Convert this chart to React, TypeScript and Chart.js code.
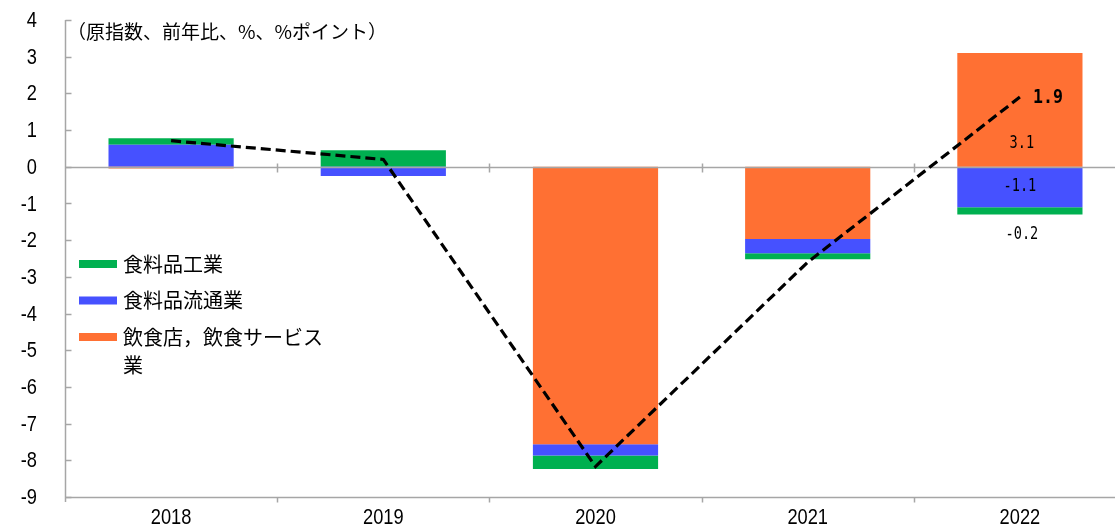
import React, { useEffect, useRef } from "react";
import { Chart, registerables } from "chart.js";
Chart.register(...registerables);

// ---- data ----
const categories = ["2018", "2019", "2020", "2021", "2022"];
const foodIndustry = [0.18, 0.45, -0.37, -0.16, -0.2]; // 食料品工業 (green)
const foodDistribution = [0.6, -0.25, -0.31, -0.39, -1.1]; // 食料品流通業 (blue)
const restaurants = [-0.05, 0.0, -7.56, -1.97, 3.1]; // 飲食店，飲食サービス業 (orange)
const totalIndex = [0.71, 0.2, -8.17, -2.6, 1.9]; // 合計 (dashed line)
const seriesNames = ["食料品工業", "食料品流通業", "飲食店，飲食サービス業"];
const totalName = "合計";
const yMin = -9;
const yMax = 4;
const unitTitle = "（原指数、前年比、%、%ポイント）";
const labeledCategory = "2022";

// ---- styles ----
const GREEN = "#00b050";
const BLUE = "#4651ff";
const ORANGE = "#ff7033";
const AXIS = "#a6a6a6";
const NUM_FONT = "'Liberation Sans', Arial, sans-serif";
const JP_FONT = "'Noto Sans CJK JP', 'Noto Sans', sans-serif";
const MONO_FONT = "'DejaVu Sans Mono', 'Liberation Mono', monospace";
const NARROW = 0.83;

function narrowText(ctx: any, text: string, x: number, y: number, align: string, sx: number) {
  ctx.save();
  ctx.translate(x, y);
  ctx.scale(sx, 1);
  ctx.textAlign = align;
  ctx.fillText(text, 0, 0);
  ctx.restore();
}

const decorPlugin = {
  id: "decor",
  beforeDatasetDraw(chart: any, args: any) {
    if (args.index !== 0) return;
    const { ctx, chartArea, scales } = chart;
    const y = scales.y;
    const y0 = Math.round(y.getPixelForValue(0)) + 0.5;
    const n = categories.length;
    const step = (chartArea.right - chartArea.left) / n;
    ctx.save();
    ctx.strokeStyle = AXIS;
    ctx.lineWidth = 1.5;
    ctx.beginPath();
    ctx.moveTo(chartArea.left, y0);
    ctx.lineTo(chartArea.right, y0);
    ctx.stroke();
    for (let i = 1; i < n; i++) {
      const bx = Math.round(chartArea.left + step * i) + 0.5;
      ctx.beginPath();
      ctx.moveTo(bx, y0 - 4);
      ctx.lineTo(bx, y0 + 5);
      ctx.stroke();
    }
    ctx.restore();
  },
  afterDraw(chart: any) {
    const { ctx, chartArea, scales } = chart;
    const x = scales.x;
    const y = scales.y;
    const n = categories.length;
    const step = (chartArea.right - chartArea.left) / n;
    ctx.save();
    ctx.strokeStyle = AXIS;
    ctx.lineWidth = 1.5;
    const ax = chartArea.left + 0.5;
    ctx.beginPath();
    ctx.moveTo(ax, chartArea.top);
    ctx.lineTo(ax, chartArea.bottom + 5);
    ctx.stroke();
    for (let v = yMin; v <= yMax; v++) {
      const py = Math.round(y.getPixelForValue(v)) + 0.5;
      ctx.beginPath();
      ctx.moveTo(ax, py);
      ctx.lineTo(ax + 6, py);
      ctx.stroke();
    }
    const by = Math.round(chartArea.bottom) + 0.5;
    ctx.beginPath();
    ctx.moveTo(chartArea.left, by);
    ctx.lineTo(chartArea.right, by);
    ctx.stroke();
    for (let i = 1; i < n; i++) {
      const bx = Math.round(chartArea.left + step * i) + 0.5;
      ctx.beginPath();
      ctx.moveTo(bx, by);
      ctx.lineTo(bx, by + 5);
      ctx.stroke();
    }
    ctx.restore();

    // condensed tick labels, from the scales' own ticks
    ctx.save();
    ctx.fillStyle = "#000";
    ctx.font = `22px ${NUM_FONT}`;
    ctx.textBaseline = "middle";
    y.ticks.forEach((t: any) => {
      narrowText(ctx, String(t.value), chartArea.left - 28, y.getPixelForValue(t.value) + 1, "right", NARROW);
    });
    x.ticks.forEach((t: any, i: number) => {
      narrowText(ctx, String(x.getLabelForValue(t.value)), x.getPixelForTick(i), chartArea.bottom + 21, "center", NARROW);
    });
    ctx.restore();

    // unit title
    ctx.save();
    ctx.fillStyle = "#000";
    ctx.font = `19px ${JP_FONT}`;
    ctx.textBaseline = "middle";
    ctx.textAlign = "left";
    ctx.fillText(unitTitle, chartArea.left + 2, chartArea.top + 12);
    ctx.restore();

    // legend
    ctx.save();
    ctx.font = `20px ${JP_FONT}`;
    ctx.textBaseline = "middle";
    ctx.textAlign = "left";
    const colors = [GREEN, BLUE, ORANGE];
    const lx = chartArea.left + 14;
    let ly = chartArea.top + 244;
    const maxW = 212;
    seriesNames.forEach((name, i) => {
      ctx.fillStyle = colors[i];
      ctx.fillRect(lx, ly - 4, 38, 8);
      ctx.fillStyle = "#000";
      const lines: string[] = [];
      let cur = "";
      for (const ch of name) {
        if (ctx.measureText(cur + ch).width > maxW && cur) {
          lines.push(cur);
          cur = ch;
        } else cur += ch;
      }
      lines.push(cur);
      lines.forEach((ln, k) => ctx.fillText(ln, lx + 44, ly + k * 28));
      ly += 36.5;
    });
    ctx.restore();

    // data labels for the labeled category
    const idx = categories.indexOf(labeledCategory);
    if (idx >= 0) {
      ctx.save();
      ctx.fillStyle = "#000";
      ctx.textBaseline = "middle";
      ctx.font = `17px ${MONO_FONT}`;
      const fmt = (v: number) => v.toFixed(1);
      const orangeBar = chart.getDatasetMeta(1).data[idx];
      const blueBar = chart.getDatasetMeta(2).data[idx];
      const greenBar = chart.getDatasetMeta(3).data[idx];
      narrowText(ctx, fmt(restaurants[idx]), orangeBar.x + 2, orangeBar.base - 23, "center", 0.8);
      narrowText(ctx, fmt(foodDistribution[idx]), blueBar.x, (blueBar.y + blueBar.base) / 2, "center", 0.8);
      narrowText(ctx, fmt(foodIndustry[idx]), greenBar.x + 2, greenBar.y + 20, "center", 0.8);
      const pt = chart.getDatasetMeta(0).data[idx];
      ctx.font = `bold 20px ${MONO_FONT}`;
      narrowText(ctx, fmt(totalIndex[idx]), pt.x + 13, pt.y + 1, "left", 0.83);
      ctx.restore();
    }
  },
};

export default function App() {
  const ref = useRef<HTMLCanvasElement | null>(null);
  useEffect(() => {
    if (!ref.current) return;
    const chart = new Chart(ref.current, {
      type: "bar",
      data: {
        labels: categories,
        datasets: [
          {
            type: "line",
            label: totalName,
            data: totalIndex,
            borderColor: "#000",
            borderWidth: 3.2,
            borderDash: [10, 5],
            pointRadius: 0,
            fill: false,
            stack: "total",
            tension: 0,
          } as any,
          { label: seriesNames[2], data: restaurants, backgroundColor: ORANGE, stack: "bars" },
          { label: seriesNames[1], data: foodDistribution, backgroundColor: BLUE, stack: "bars" },
          { label: seriesNames[0], data: foodIndustry, backgroundColor: GREEN, stack: "bars" },
        ],
      },
      options: {
        responsive: false,
        animation: false,
        layout: { padding: { top: 20, right: 14, left: 0, bottom: 0 } },
        datasets: { bar: { categoryPercentage: 1, barPercentage: 0.59, borderWidth: 0 } } as any,
        plugins: { legend: { display: false }, tooltip: { enabled: false }, title: { display: false } },
        scales: {
          x: {
            stacked: true,
            grid: { display: false, drawTicks: false },
            border: { display: false },
            ticks: { color: "rgba(0,0,0,0)", font: { family: NUM_FONT, size: 20 }, padding: 6 },
            afterFit: (s: any) => {
              s.height = 29;
            },
          },
          y: {
            stacked: true,
            min: yMin,
            max: yMax,
            grid: { display: false, drawTicks: true, tickLength: 29 },
            border: { display: false },
            ticks: { stepSize: 1, color: "rgba(0,0,0,0)", font: { family: NUM_FONT, size: 20 }, padding: 0 },
            afterFit: (s: any) => {
              s.width = 65;
            },
          },
        },
      },
      plugins: [decorPlugin],
    });
    return () => chart.destroy();
  }, []);
  return (
    <div style={{ position: "fixed", left: 0, top: 0, width: 1115, height: 526, overflow: "hidden", background: "#fff" }}>
      <canvas ref={ref} width={1140} height={526} style={{ width: 1140, height: 526, display: "block" }} />
    </div>
  );
}
